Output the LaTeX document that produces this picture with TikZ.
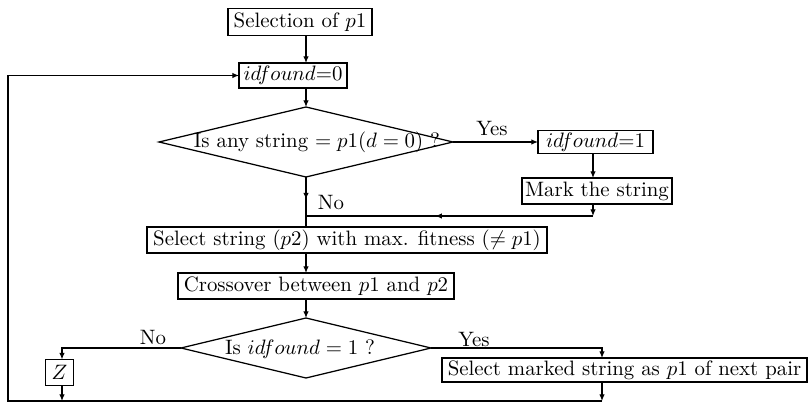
\documentclass[tikz,border=0pt]{standalone}
\usetikzlibrary{arrows.meta,shapes.geometric,decorations.markings}
\tikzset{
  >={Latex[length=3.2pt,width=2.6pt]},
  every path/.style={line width=0.5pt},
  bx/.style n args={2}{draw, line width=0.6pt, inner sep=0pt, outer sep=0pt,
     minimum width=#1*0.48pt, minimum height=#2*0.48pt, font=\normalsize},
  dmd/.style n args={2}{draw, diamond, line width=0.6pt, inner sep=0pt, outer sep=0pt, aspect=1,
     minimum width=#1*0.48pt, minimum height=#2*0.48pt},
  lbl/.style={inner sep=0pt, font=\normalsize},
  midarr/.style={postaction={decorate}, decoration={markings, mark=at position #1 with {\arrow{>}}}}
}
\begin{document}
\begin{tikzpicture}[x=0.48pt,y=-0.48pt]
\useasboundingbox (0,0) rectangle (812,404);
% helper coordinates
\coordinate (mx) at (306,0);
\coordinate (rx) at (593,0);
\coordinate (lz) at (62,0);
\coordinate (yx) at (602,0);
\coordinate (jn) at (306,216);
\coordinate (bl) at (8,401);
% nodes
\node[bx={144}{27}] (sel) at (300,22) {Selection of $p1$};
\node[bx={108}{25}] (id0) at (293,75.5) {$idfound$=0};
\node[dmd={294}{70}] (d1) at (306,142) {};
\node[lbl] (d1t) at (317,142) {Is any string $= p1(d = 0)$ ?};
\node[bx={115}{23}] (id1) at (595.5,142) {$idfound$=1};
\node[bx={150}{26}] (mark) at (597,191) {Mark the string};
\node[bx={400}{26}] (sel2) at (347,240) {Select string ($p2$) with max. fitness ($\neq p1$)};
\node[bx={276}{26}] (cross) at (316,286) {Crossover between $p1$ and $p2$};
\node[dmd={250}{60}] (d2) at (306,348) {};
\node[lbl] (d2t) at (300,349) {Is $idfound = 1$ ?};
\node[bx={28}{26}] (z) at (59.5,372.5) {$Z$};
\node[bx={365}{24}] (selm) at (624.5,370) {Select marked string as $p1$ of next pair};
% labels
\node[lbl] (yes1) at (492,129) {Yes};
\node[lbl] (no1) at (331,203) {No};
\node[lbl] (no2) at (153,338) {No};
\node[lbl] (yes2) at (474,340) {Yes};
% connectors
\draw[->] (sel.south -| mx) -- (id0.north -| mx);
\draw[->] (id0.south -| mx) -- (d1.north);
\draw[->] (d1.east) -- (d1.east -| id1.west);
\draw[->] (id1.south -| rx) -- (mark.north -| rx);
\draw[->] (mark.south -| rx) -- (rx |- jn);
\draw[midarr=0.55] (rx |- jn) -- (jn);
\draw[midarr=0.45] (d1.south) -- (sel2.north -| mx);
\draw[->] (sel2.south -| mx) -- (cross.north -| mx);
\draw[->] (cross.south -| mx) -- (d2.north);
\draw[->] (d2.west) -| (z.north -| lz);
\draw[->] (z.south -| lz) -- (lz |- bl);
\draw[->] (d2.east) -| (selm.north -| yx);
\draw[->] (selm.south -| yx) -- (yx |- bl);
\draw[->] (yx |- bl) -- (bl) |- (id0.west);
\end{tikzpicture}
\end{document}
